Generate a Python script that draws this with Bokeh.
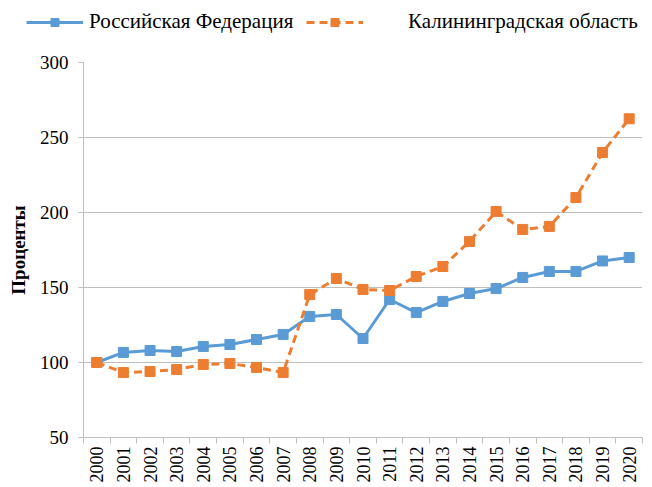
from bokeh.plotting import figure
from bokeh.models import (ColumnDataSource, FixedTicker, Legend, LegendItem, Range1d)
from bokeh.embed import file_html
from bokeh.resources import INLINE
import math

years = [2000, 2001, 2002, 2003, 2004, 2005, 2006, 2007, 2008, 2009, 2010,
         2011, 2012, 2013, 2014, 2015, 2016, 2017, 2018, 2019, 2020]
russia = [100, 106.7, 108, 107.3, 110.7, 112, 115.3, 118.7, 130.7, 132, 116,
          142, 133.3, 140.7, 146, 149.3, 156.7, 160.7, 160.7, 167.7, 170]
kaliningrad = [100, 93.3, 94, 95.3, 98.7, 99.3, 96.7, 93.3, 145.3, 156, 148.7,
               148, 157.3, 164, 180.7, 200.7, 188.7, 190.7, 210, 240, 262.5]
series_names = ["Российская Федерация", "Калининградская область"]
y_label = "Проценты"
y_ticks = [50, 100, 150, 200, 250, 300]

idx = list(range(len(years)))
src = ColumnDataSource(dict(x=idx, ru=russia, kl=kaliningrad))

FONT = "Liberation Serif"
BLUE = "#5B9BD5"
ORANGE = "#ED7D31"
GRID = "#BFBFBF"
DASH = "8 5"


def add_series(fig):
    a = fig.line("x", "ru", source=src, line_color=BLUE, line_width=3)
    b = fig.scatter("x", "ru", source=src, marker="square", size=10,
                    fill_color=BLUE, line_color=BLUE)
    c = fig.line("x", "kl", source=src, line_color=ORANGE, line_width=3,
                 line_dash=DASH)
    d = fig.scatter("x", "kl", source=src, marker="square", size=10,
                    fill_color=ORANGE, line_color=ORANGE)
    return a, b, c, d


# ---- main chart ----
p = figure(width=652, height=447, output_backend="svg", toolbar_location=None,
           x_range=(-0.5, len(years) - 0.5), y_range=(50, 300),
           min_border_left=83, min_border_right=10, min_border_top=22,
           min_border_bottom=50)
p.outline_line_color = None
add_series(p)

# x axis
p.xaxis.ticker = FixedTicker(ticks=idx, minor_ticks=[i - 0.5 for i in range(len(years) + 1)])
p.xaxis.major_label_overrides = {i: str(y) for i, y in zip(idx, years)}
p.xaxis.major_label_orientation = math.pi / 2
p.xaxis.major_tick_line_color = None
p.xaxis.minor_tick_line_color = GRID
p.xaxis.minor_tick_out = 6
p.xaxis.minor_tick_in = 0
p.xaxis.axis_line_color = GRID
p.xaxis.major_label_text_font = FONT
p.xaxis.major_label_text_font_size = "18px"
p.xaxis.major_label_text_color = "#000000"
p.xaxis.major_label_standoff = 3

# y axis
p.yaxis.ticker = FixedTicker(ticks=y_ticks)
p.yaxis.minor_tick_line_color = None
p.yaxis.major_tick_line_color = GRID
p.yaxis.major_tick_out = 5
p.yaxis.major_tick_in = 0
p.yaxis.axis_line_color = GRID
p.yaxis.major_label_text_font = FONT
p.yaxis.major_label_text_font_size = "19px"
p.yaxis.major_label_text_color = "#000000"
p.yaxis.major_label_standoff = 10
p.yaxis.axis_label = y_label
p.yaxis.axis_label_text_font = FONT
p.yaxis.axis_label_text_font_size = "19px"
p.yaxis.axis_label_text_font_style = "bold"
p.yaxis.axis_label_text_color = "#000000"
p.yaxis.axis_label_standoff = 8

p.xgrid.grid_line_color = None
p.ygrid.grid_line_color = GRID
p.ygrid.grid_line_width = 1

# ---- legend strip (separate root, so no frame alignment) ----
lg = figure(width=652, height=40, output_backend="svg", toolbar_location=None,
            x_range=Range1d(1000, 1001), y_range=Range1d(1000, 1001),
            x_axis_type=None, y_axis_type=None,
            min_border_left=0, min_border_right=0, min_border_top=0,
            min_border_bottom=0)
lg.outline_line_color = None
lg.xgrid.grid_line_color = None
lg.ygrid.grid_line_color = None
g1, s1, g2, s2 = add_series(lg)

common = dict(orientation="horizontal", border_line_color=None,
              background_fill_alpha=0, label_text_font=FONT,
              label_text_font_size="21px", label_text_color="#000000",
              glyph_width=57, margin=0, padding=2)
leg1 = Legend(items=[LegendItem(label=series_names[0], renderers=[g1, s1])],
              location=(26, 6), label_standoff=6, **common)
leg2 = Legend(items=[LegendItem(label=series_names[1], renderers=[g2, s2])],
              location=(306, 6), label_standoff=45, **common)
lg.add_layout(leg1)
lg.add_layout(leg2)

open("out.html", "w").write(file_html([lg, p], INLINE))
